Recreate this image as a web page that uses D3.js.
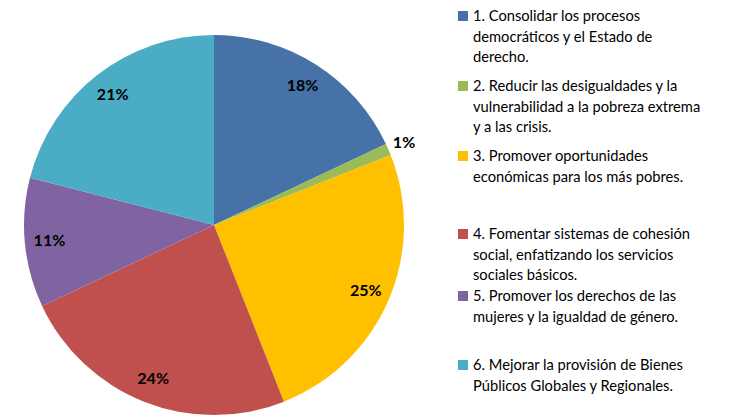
<!DOCTYPE html>
<html>
<head>
<meta charset="utf-8">
<script src="https://cdn.jsdelivr.net/npm/d3@7"></script>
<style>
  html, body { margin: 0; padding: 0; background: #fff; }
  svg { display: block; }
  text { font-family: Lato, "Open Sans", sans-serif; }
</style>
</head>
<body>
<svg id="chart" width="746" height="417"></svg>
<script>
// Share of funding by strategic objective (percent)
const categories = [
  "1. Consolidar los procesos democráticos y el Estado de derecho.",
  "2. Reducir las desigualdades y la vulnerabilidad a la pobreza extrema y a las crisis.",
  "3. Promover oportunidades económicas para los más pobres.",
  "4. Fomentar sistemas de cohesión social, enfatizando los servicios sociales básicos.",
  "5. Promover los derechos de las mujeres y la igualdad de género.",
  "6. Mejorar la provisión de Bienes Públicos Globales y Regionales."
];
const values = [18, 1, 25, 24, 11, 21];
const valueLabels = ["18%", "1%", "25%", "24%", "11%", "21%"];

// Legend text as wrapped on the page
const legendLines = [
  ["1. Consolidar los procesos", "democráticos y el Estado de", "derecho."],
  ["2. Reducir las desigualdades y la", "vulnerabilidad a la pobreza extrema", "y a las crisis."],
  ["3. Promover oportunidades", "económicas para los más pobres."],
  ["4. Fomentar sistemas de cohesión", "social, enfatizando los servicios", "sociales básicos."],
  ["5. Promover los derechos de las", "mujeres y la igualdad de género."],
  ["6. Mejorar la provisión de Bienes", "Públicos Globales y Regionales."]
];

const colors = ["#4672A7", "#9BBB59", "#FFC000", "#C0504D", "#8064A2", "#4BACC6"];

const svg = d3.select("#chart");
const cx = 214, cy = 225, R = 190;

const pie = d3.pie().value(d => d).sort(null);
const arcs = pie(values);
const arc = d3.arc().innerRadius(0).outerRadius(R);
const labelArc = d3.arc().innerRadius(R * 0.87).outerRadius(R * 0.87);
const outerLabelArc = d3.arc().innerRadius(R * 1.09).outerRadius(R * 1.09);

const g = svg.append("g").attr("transform", `translate(${cx},${cy})`);

g.selectAll("path.slice")
  .data(arcs)
  .join("path")
  .attr("class", "slice")
  .attr("d", arc)
  .attr("fill", (d, i) => colors[i]);

// Small slices get their label outside the pie
g.selectAll("text.val")
  .data(arcs)
  .join("text")
  .attr("class", "val")
  .attr("transform", d => {
    const a = (d.data < 5 ? outerLabelArc : labelArc).centroid(d);
    return `translate(${a[0]},${a[1]})`;
  })
  .attr("text-anchor", "middle")
  .attr("dy", "0.35em")
  .attr("font-size", 16)
  .attr("font-weight", "bold")
  .attr("fill", "#000")
  .text((d, i) => valueLabels[i]);

// Legend
const legendX = 458;
const entryBaselines = [21, 91, 161, 239, 301, 370];
const lineStep = 20.7;

const legend = svg.append("g");
const entries = legend.selectAll("g.entry")
  .data(categories)
  .join("g")
  .attr("class", "entry")
  .attr("transform", (d, i) => `translate(${legendX},${entryBaselines[i]})`);

entries.append("rect")
  .attr("x", 0)
  .attr("y", -10)
  .attr("width", 10)
  .attr("height", 10)
  .attr("fill", (d, i) => colors[i]);

entries.each(function (d, i) {
  const t = d3.select(this).append("text")
    .attr("x", 15)
    .attr("y", 0)
    .attr("font-size", 14.7)
    .attr("fill", "#000");
  legendLines[i].forEach((line, j) => {
    t.append("tspan").attr("x", 15).attr("y", j * lineStep).text(line);
  });
});
</script>
</body>
</html>
